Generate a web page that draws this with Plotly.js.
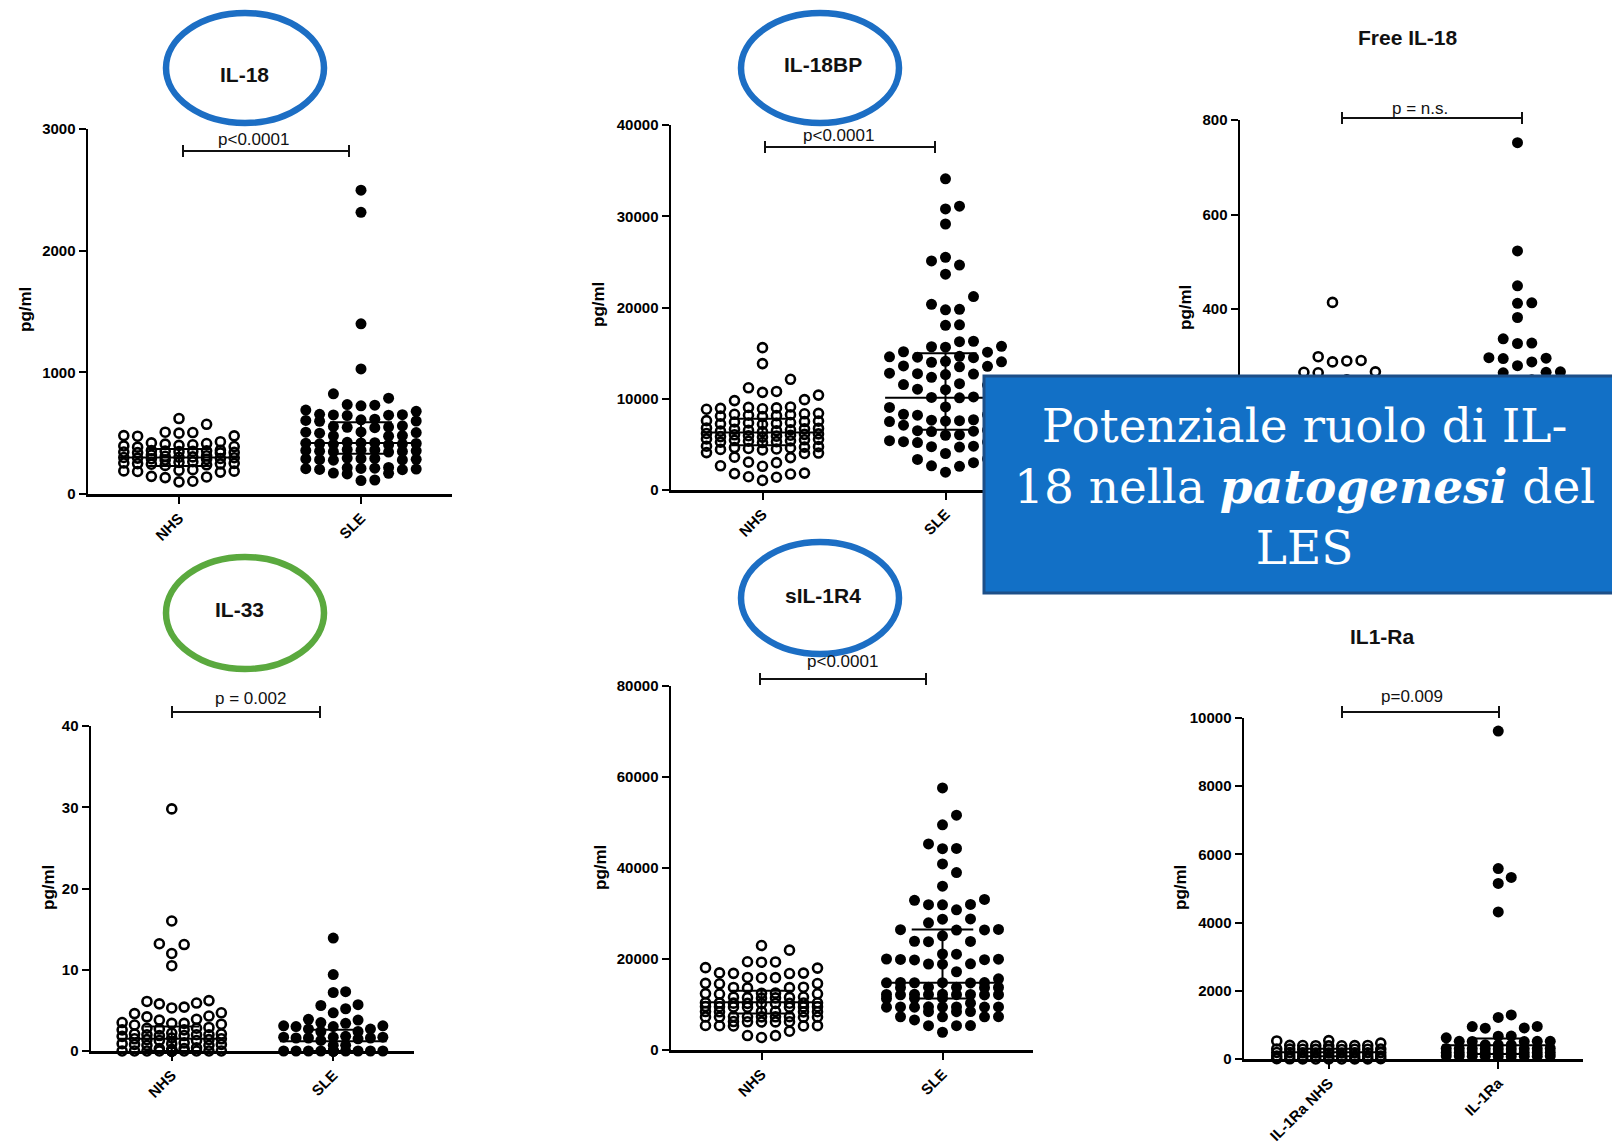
<!DOCTYPE html>
<html><head><meta charset="utf-8">
<script src="https://cdn.plot.ly/plotly-3.0.1.min.js"></script>
<style>html,body{margin:0;padding:0;background:#fff;}#chart{width:1612px;height:1143px;}</style>
</head><body><div id="chart"></div>
<script>
// ---------------- DATA (pg/ml) ----------------
const groupLabels = ['NHS', 'SLE'];
const il1raLabels = ['IL-1Ra NHS', 'IL-1Ra'];

const il18_NHS = [620, 573, 508, 505, 500, 480, 478, 475, 430, 420, 415, 410, 405, 400, 395, 390, 385,
  360, 358, 355, 352, 350, 348, 345, 342, 340, 338, 320, 315, 310, 305, 302, 300, 298, 295, 292, 290, 285, 280,
  265, 260, 255, 252, 250, 248, 245, 240, 235, 200, 195, 190, 188, 185, 180, 145, 140, 135, 105, 100];
const il18_SLE = [2497, 2315, 1399, 1028, 823, 788, 735, 730, 725, 690, 680, 655, 652, 650, 648, 645,
  615, 610, 605, 600, 598, 560, 555, 550, 548, 545, 510, 508, 505, 500, 480, 478, 475,
  425, 422, 420, 418, 415, 412, 410, 408, 405, 365, 362, 360, 358, 355, 352, 350, 348, 345,
  295, 292, 290, 288, 285, 282, 280, 278, 218, 215, 212, 210, 208, 205, 202, 200, 172, 170, 165, 115, 110];
const il18_NHS_iqr = [230, 300, 370];   // q1, median, q3
const il18_SLE_iqr = [330, 420, 590];

const il18bp_NHS = [15600, 13850, 12130, 11200, 10800, 10700, 10400, 9900, 9800,
  9100, 9050, 9000, 8950, 8900, 8850, 8400, 8350, 8300, 8250, 8200, 8150, 8100, 8050,
  7600, 7550, 7500, 7450, 7400, 7350, 7300, 7250, 7200, 6800, 6750, 6700, 6650, 6600, 6550, 6500, 6450, 6400,
  6200, 6150, 6100, 6050, 6000, 5950, 5900, 5850, 5800, 5600, 5550, 5500, 5450, 5400, 5350, 5300, 5250, 5200,
  4800, 4750, 4700, 4650, 4600, 4550, 4500, 4450, 4400, 4100, 4050, 4000, 3600, 3550, 3050, 3000, 2650, 2600,
  1850, 1800, 1750, 1450, 1400, 1050];
const il18bp_SLE = [34100, 31100, 30800, 29150, 25500, 25100, 24650, 23650, 21200, 20350, 19800, 19750, 18100, 18050,
  16300, 16250, 15750, 15700, 15650, 15150, 15100, 14650, 14600, 14550, 14500, 14100, 14050, 14000,
  13600, 13550, 13500, 12800, 12750, 12700, 12650, 12350, 11650, 11600, 11550, 11500, 11050, 11000,
  10200, 10150, 10100, 9100, 9050, 9000, 8300, 8250, 8200, 7700, 7650, 7600, 7550, 7500, 7150, 7100,
  6550, 6500, 6450, 6400, 6050, 6000, 5400, 5350, 5300, 5250, 5200, 4800, 4750, 4700, 4000, 3400, 3350, 3000,
  2650, 2600, 1950];
const il18bp_NHS_iqr = [4900, 6300, 7800];
const il18bp_SLE_iqr = [6600, 10100, 15000];

const freeil18_NHS = [414, 299, 291, 290, 288, 267, 266, 265, 250, 245, 240, 230, 225, 220, 210, 205, 200, 195,
  190, 185, 180, 175, 170, 160, 150, 140, 130, 120, 110, 100, 90, 80, 70, 60];
const freeil18_SLE = [752, 523, 449, 413, 412, 382, 337, 328, 327, 297, 296, 295, 288, 280, 267, 266, 265,
  250, 245, 240, 235, 230, 220, 215, 210, 200, 195, 190, 180, 170, 160, 150, 140, 130, 120, 100, 90, 80, 60];

const il33_NHS = [29.8, 16.0, 13.2, 13.1, 12.0, 10.5, 6.2, 6.1, 5.9, 5.8, 5.4, 5.3, 4.7, 4.6, 4.3, 4.2, 3.9, 3.8,
  3.5, 3.4, 3.4, 3.3, 3.2, 2.9, 2.8, 2.8, 2.7, 2.6, 2.6, 2.2, 2.1, 2.1, 2.0, 2.0, 2.0, 1.9, 1.9, 1.8,
  1.6, 1.5, 1.5, 1.4, 1.4, 1.3, 1.3, 1.0, 0.9, 0.9, 0.8, 0.8, 0.7, 0.7, 0.4, 0.3, 0.3, 0.2,
  0, 0, 0, 0, 0, 0, 0, 0, 0, 0, 0, 0, 0, 0, 0];
const il33_SLE = [13.9, 9.4, 7.3, 7.2, 5.7, 5.6, 5.2, 4.7, 3.9, 3.8, 3.5, 3.4, 3.1, 3.1, 3.0, 3.0, 2.7, 2.7,
  2.4, 2.4, 1.8, 1.7, 1.7, 1.7, 1.6, 1.6, 1.6, 1.5, 1.3, 0.7, 0.7, 0, 0, 0, 0, 0, 0, 0, 0, 0, 0, 0, 0, 0, 0];
const il33_NHS_iqr = [0, 1.5, 3.0];
const il33_SLE_iqr = [0, 1.2, 2.6];

const sil1r4_NHS = [22970, 21940, 19400, 19350, 19300, 18100, 18000, 16950, 16900, 16850, 16800, 15950, 15900, 15850,
  14650, 14600, 14550, 13800, 13750, 13700, 13650, 12500, 12450, 12400, 12350, 12300,
  11650, 11600, 11550, 11500, 11450, 11400, 10400, 10380, 10350, 10330, 10300, 10280, 10250, 10230, 10200,
  9550, 9520, 9500, 9470, 9450, 9420, 9400, 8500, 8470, 8450, 8420, 8400, 8380,
  7350, 7330, 7310, 7300, 7290, 7270, 7250, 7230, 7200, 6250, 6220, 6200, 6180, 6150,
  5380, 5350, 5330, 5300, 5280, 4130, 3180, 3150, 2750];
const sil1r4_SLE = [57600, 51600, 49500, 45300, 44300, 44250, 40900, 39000, 36000, 33100, 32900, 32000, 31950, 31900,
  30800, 28800, 28750, 27950, 26500, 26450, 26400, 26350, 25100, 23900, 23850, 23800, 21100, 21050,
  20000, 19950, 19900, 19850, 19800, 18950, 18900, 18850, 17200, 15650,
  14850, 14820, 14800, 14780, 14760, 14740, 13800, 13780, 13750, 13720, 13700,
  12250, 12230, 12210, 12200, 12190, 12170, 12150, 12130, 12110, 11380, 11350, 11320, 10300,
  9480, 9470, 9460, 9450, 9440, 9430, 9420, 9410, 8450, 8430, 8410, 7320, 7310, 7300, 7290, 6600,
  5360, 5350, 5340, 3900];
const sil1r4_NHS_iqr = [8000, 10500, 13000];
const sil1r4_SLE_iqr = [11300, 14800, 26500];

const il1ra_NHS = [540, 530, 465, 400, 398, 395, 393, 390, 388, 385, 295, 293, 290, 288, 286, 284, 282, 280, 278,
  190, 188, 186, 184, 182, 180, 178, 176, 174, 90, 88, 86, 84, 82, 80, 78, 76, 74, 10, 8, 6, 5, 4, 3, 2, 1, 0];
const il1ra_SLE = [9617, 5584, 5326, 5150, 4312, 1293, 1220, 955, 950, 910, 905, 672, 670, 620, 520, 518, 517, 515, 512,
  415, 414, 412, 310, 308, 306, 304, 302, 300, 298, 296, 294, 190, 188, 186, 184, 182, 180, 178, 176, 174,
  90, 88, 86, 84, 82, 80, 78, 76, 74];
const il1ra_NHS_iqr = [80, 200, 300];
const il1ra_SLE_iqr = [150, 400, 600];

// ---------------- LAYOUT / STYLE ----------------
const W = 1612, H = 1143;
const X = px => px / W, Y = py => 1 - py / H;
const BLUE = '#1c6ec4', GREEN = '#5aa93e';
const SANS = 'Liberation Sans, Arial, sans-serif';

const panels = [
  {nhs: il18_NHS, sle: il18_SLE, nhsIqr: il18_NHS_iqr, sleIqr: il18_SLE_iqr, labels: groupLabels,
   ymax: 3000, ticks: [0, 1000, 2000, 3000], box: [88, 452, 129, 494], sp: 13.8, showX: true,
   title: 'IL-18', tpos: [245, 74], ell: [245, 68, 79, 55, BLUE], p: 'p&lt;0.0001', ppos: [253, 139],
   br: [183, 349, 151], yt: [25, 310]},
  {nhs: il18bp_NHS, sle: il18bp_SLE, nhsIqr: il18bp_NHS_iqr, sleIqr: il18bp_SLE_iqr, labels: groupLabels,
   ymax: 40000, ticks: [0, 10000, 20000, 30000, 40000], box: [671, 1037, 125, 490], sp: 14, showX: true,
   title: 'IL-18BP', tpos: [823, 64], ell: [820, 68, 79, 55, BLUE], p: 'p&lt;0.0001', ppos: [838, 135],
   br: [765, 935, 147], yt: [599, 305]},
  // Free IL-18: lower part (0, 200 and category labels) lies under the caption box
  {nhs: freeil18_NHS, sle: freeil18_SLE, nhsIqr: null, sleIqr: null, labels: groupLabels,
   ymax: 800, ticks: [400, 600, 800], box: [1240, 1610, 120, 498], sp: 14.3, showX: false,
   title: 'Free IL-18', tpos: [1408, 38], ell: null, p: 'p = n.s.', ppos: [1420, 108],
   br: [1342, 1522, 118], yt: [1185, 308]},
  {nhs: il33_NHS, sle: il33_SLE, nhsIqr: il33_NHS_iqr, sleIqr: il33_SLE_iqr, labels: groupLabels,
   ymax: 40, ticks: [0, 10, 20, 30, 40], box: [91, 414, 726, 1051], sp: 12.4, showX: true,
   title: 'IL-33', tpos: [240, 609], ell: [245, 613, 79, 56, GREEN], p: 'p = 0.002', ppos: [250, 698],
   br: [172, 320, 712], yt: [48, 888]},
  {nhs: sil1r4_NHS, sle: sil1r4_SLE, nhsIqr: sil1r4_NHS_iqr, sleIqr: sil1r4_SLE_iqr, labels: groupLabels,
   ymax: 80000, ticks: [0, 20000, 40000, 60000, 80000], box: [671, 1033, 686, 1050], sp: 14, showX: true,
   title: 'sIL-1R4', tpos: [823, 595], ell: [820, 598, 79, 56, BLUE], p: 'p&lt;0.0001', ppos: [842, 661],
   br: [760, 926, 679], yt: [600, 868]},
  {nhs: il1ra_NHS, sle: il1ra_SLE, nhsIqr: il1ra_NHS_iqr, sleIqr: il1ra_SLE_iqr, labels: il1raLabels,
   ymax: 10000, ticks: [0, 2000, 4000, 6000, 8000, 10000], box: [1244, 1583, 718, 1059], sp: 13, showX: true,
   title: 'IL1-Ra', tpos: [1382, 636], ell: null, p: 'p=0.009', ppos: [1412, 696],
   br: [1342, 1499, 712], yt: [1180, 888]}
];

// Prism-like column scatter: grid columns, first free column from the centre outwards
function swarm(vals, pxPerUnit, spPx, unitsPerPx, maxCol) {
  const order = vals.map((v, i) => i).sort((a, b) => vals[a] - vals[b]);
  const cand = [0];
  for (let k = 1; k <= maxCol; k++) cand.push(k, -k);
  const cols = {};
  const off = new Array(vals.length);
  for (const i of order) {
    const yp = vals[i] * pxPerUnit;
    let best = 0, bestGap = -1;
    for (const c of cand) {
      const list = cols[c] || [];
      let gap = Infinity;
      for (const y of list) gap = Math.min(gap, Math.abs(y - yp));
      if (gap >= spPx * 0.98) { best = c; break; }
      if (gap > bestGap) { bestGap = gap; best = c; }
    }
    (cols[best] = cols[best] || []).push(yp);
    off[i] = best * spPx * unitsPerPx;
  }
  return off;
}

function iqrTrace(c, s, ax, ay) {
  if (!s) return null;
  const [q1, m, q3] = s;
  return {type: 'scatter', mode: 'lines', xaxis: ax, yaxis: ay, cliponaxis: false, hoverinfo: 'skip',
    x: [c - 0.33, c + 0.33, null, c - 0.17, c + 0.17, null, c - 0.17, c + 0.17, null, c, c],
    y: [m, m, null, q1, q1, null, q3, q3, null, q1, q3],
    line: {color: '#000', width: 2}};
}

const traces = [], shapes = [], annotations = [];
const layout = {width: W, height: H, margin: {l: 0, r: 0, t: 0, b: 0}, showlegend: false,
  paper_bgcolor: '#fff', plot_bgcolor: 'rgba(0,0,0,0)', hovermode: false};

panels.forEach((P, k) => {
  const s = k === 0 ? '' : String(k + 1);
  const ax = 'x' + s, ay = 'y' + s;
  const [l, r, t, b] = P.box;
  const pxPerUnit = (b - t) / P.ymax;
  const unitsPerPx = 2 / (r - l);
  const offN = swarm(P.nhs, pxPerUnit, P.sp, unitsPerPx, 4);
  const offS = swarm(P.sle, pxPerUnit, P.sp, unitsPerPx, 4);
  traces.push({type: 'scatter', mode: 'markers', xaxis: ax, yaxis: ay, cliponaxis: false,
    x: P.nhs.map((v, i) => 0 + offN[i]), y: P.nhs,
    marker: {symbol: 'circle-open', size: 9, color: '#000', line: {width: 2.6, color: '#000'}}});
  traces.push({type: 'scatter', mode: 'markers', xaxis: ax, yaxis: ay, cliponaxis: false,
    x: P.sle.map((v, i) => 1 + offS[i]), y: P.sle,
    marker: {symbol: 'circle', size: 11, color: '#000'}});
  [iqrTrace(0, P.nhsIqr, ax, ay), iqrTrace(1, P.sleIqr, ax, ay)].forEach(tr => { if (tr) traces.push(tr); });

  const tf = {family: SANS, size: 15, color: '#000', weight: 'bold'};
  layout['xaxis' + s] = {domain: [X(l), X(r)], anchor: ay, range: [-0.5, 1.5], tickvals: [0, 1],
    ticktext: P.labels, showticklabels: P.showX, tickangle: -45, ticks: 'outside', ticklen: 7, tickwidth: 2,
    tickcolor: '#000', showline: true, linewidth: 2.5, linecolor: '#000', showgrid: false, zeroline: false,
    tickfont: tf, fixedrange: true};
  layout['yaxis' + s] = {domain: [Y(b), Y(t)], anchor: ax, range: [0, P.ymax], tickvals: P.ticks,
    tickformat: 'd', ticks: 'outside', ticklen: 7, tickwidth: 2, tickcolor: '#000', showline: true,
    linewidth: 2.5, linecolor: '#000', showgrid: false, zeroline: false, tickfont: tf, fixedrange: true};

  // title, p-value, y-title
  annotations.push({xref: 'paper', yref: 'paper', x: X(P.tpos[0]), y: Y(P.tpos[1]), xanchor: 'center',
    yanchor: 'middle', showarrow: false, text: P.title, font: {family: SANS, size: 21, color: '#111', weight: 'bold'}});
  annotations.push({xref: 'paper', yref: 'paper', x: X(P.ppos[0]), y: Y(P.ppos[1]), xanchor: 'center',
    yanchor: 'middle', showarrow: false, text: P.p, font: {family: SANS, size: 17, color: '#111'}});
  annotations.push({xref: 'paper', yref: 'paper', x: X(P.yt[0]), y: Y(P.yt[1]), xanchor: 'center',
    yanchor: 'middle', showarrow: false, textangle: -90, text: 'pg/ml',
    font: {family: SANS, size: 17, color: '#000', weight: 'bold'}});
  // significance bracket
  const [bx0, bx1, by] = P.br;
  const ln = {color: '#111', width: 2};
  shapes.push({type: 'line', xref: 'paper', yref: 'paper', x0: X(bx0), x1: X(bx1), y0: Y(by), y1: Y(by), line: ln});
  shapes.push({type: 'line', xref: 'paper', yref: 'paper', x0: X(bx0), x1: X(bx0), y0: Y(by - 6), y1: Y(by + 6), line: ln});
  shapes.push({type: 'line', xref: 'paper', yref: 'paper', x0: X(bx1), x1: X(bx1), y0: Y(by - 6), y1: Y(by + 6), line: ln});
  // highlight ellipse
  if (P.ell) {
    const [cx, cy, rx, ry, col] = P.ell;
    shapes.push({type: 'circle', xref: 'paper', yref: 'paper', x0: X(cx - rx), x1: X(cx + rx),
      y0: Y(cy + ry), y1: Y(cy - ry), line: {color: col, width: 6.5}});
  }
});

// blue caption box
shapes.push({type: 'rect', xref: 'paper', yref: 'paper', layer: 'above', x0: X(984), x1: X(1616),
  y0: Y(593), y1: Y(376), fillcolor: '#1270c6', line: {color: '#1d4f88', width: 3}});
annotations.push({xref: 'paper', yref: 'paper', x: X(1304), y: Y(486), xanchor: 'center', yanchor: 'middle',
  showarrow: false, align: 'center',
  text: 'Potenziale ruolo di IL-<br>18 nella <b><i>patogenesi</i></b> del<br>LES',
  font: {family: 'DejaVu Serif, serif', size: 47, color: '#fff'}});

layout.shapes = shapes;
layout.annotations = annotations;
Plotly.newPlot('chart', traces, layout, {staticPlot: true, displayModeBar: false});
</script></body></html>
